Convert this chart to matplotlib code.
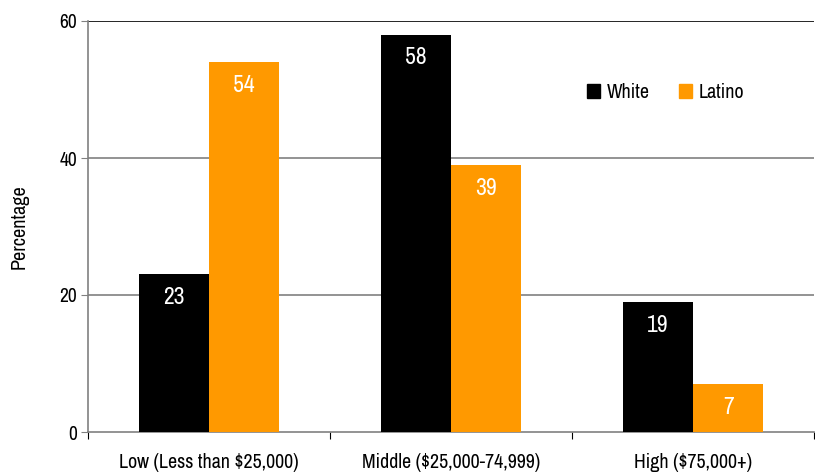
import matplotlib
matplotlib.use("Agg")
import matplotlib.pyplot as plt
from matplotlib.patches import Patch
import numpy as np
from matplotlib import font_manager

categories = ["Low (Less than $25,000)", "Middle ($25,000-74,999)", "High ($75,000+)"]
white_vals = [23, 58, 19]
latino_vals = [54, 39, 7]
series_names = ["White", "Latino"]
yticks = [0, 20, 40, 60]

# Prefer a narrow sans face for the whole figure
names = {f.name for f in font_manager.fontManager.ttflist}
preferred = ["Liberation Sans Narrow", "Arial Narrow", "Archivo Narrow", "PT Sans Narrow",
             "Roboto Condensed", "Open Sans Condensed", "Sofia Sans Condensed",
             "Liberation Sans", "DejaVu Sans"]
fam = [f for f in preferred if f in names]
plt.rcParams["font.family"] = fam[:1] + ["DejaVu Sans"]

BLACK = "#000000"
ORANGE = "#FF9900"
GRID = "#808080"

fig = plt.figure(figsize=(8.15, 4.72), dpi=100)
ax = fig.add_axes([88 / 815, 40 / 472, 1 - 88 / 815 - 0.001, 411 / 472])

x = np.arange(len(categories))
w = 0.289
b1 = ax.bar(x - w / 2, white_vals, w, color=BLACK, zorder=3)
b2 = ax.bar(x + w / 2, latino_vals, w, color=ORANGE, zorder=3)

for bars, vals in ((b1, white_vals), (b2, latino_vals)):
    for r, v in zip(bars, vals):
        ax.text(r.get_x() + r.get_width() / 2, v - 3.4, str(v), ha="center", va="center",
                color="white", fontsize=17, fontweight="semibold", zorder=4)

ax.set_xlim(-0.5, 2.5)
ax.set_ylim(0, 60)
ax.set_yticks(yticks)
ax.tick_params(axis="y", labelsize=14, length=5, color=GRID, pad=3)
for yv in yticks[1:]:
    ax.axhline(yv, color=BLACK if yv == 60 else GRID, lw=1.2, zorder=1)

ax.set_xticks([-0.5, 0.5, 1.5, 2.5])
ax.set_xticklabels([])
ax.set_xticks(x, minor=True)
ax.set_xticklabels(categories, minor=True)
ax.tick_params(axis="x", which="major", length=5, color=BLACK, direction="out")
ax.tick_params(axis="x", which="minor", length=0, labelsize=14.4, pad=15)

for s in ("top", "right"):
    ax.spines[s].set_visible(False)
ax.spines["left"].set_color(GRID)
ax.spines["bottom"].set_color(GRID)
ax.spines["left"].set_linewidth(1.2)
ax.spines["bottom"].set_linewidth(1.2)

ax.set_ylabel("Percentage", fontsize=14.5, labelpad=22)

handles = [Patch(color=BLACK), Patch(color=ORANGE)]
ax.legend(handles, series_names, loc="center left", bbox_to_anchor=(0.676, 0.826),
          ncol=2, frameon=False, fontsize=14.4, handlelength=0.65, handleheight=0.65,
          handletextpad=0.35, columnspacing=1.45, borderaxespad=0)

fig.savefig("out.png", dpi=100)
